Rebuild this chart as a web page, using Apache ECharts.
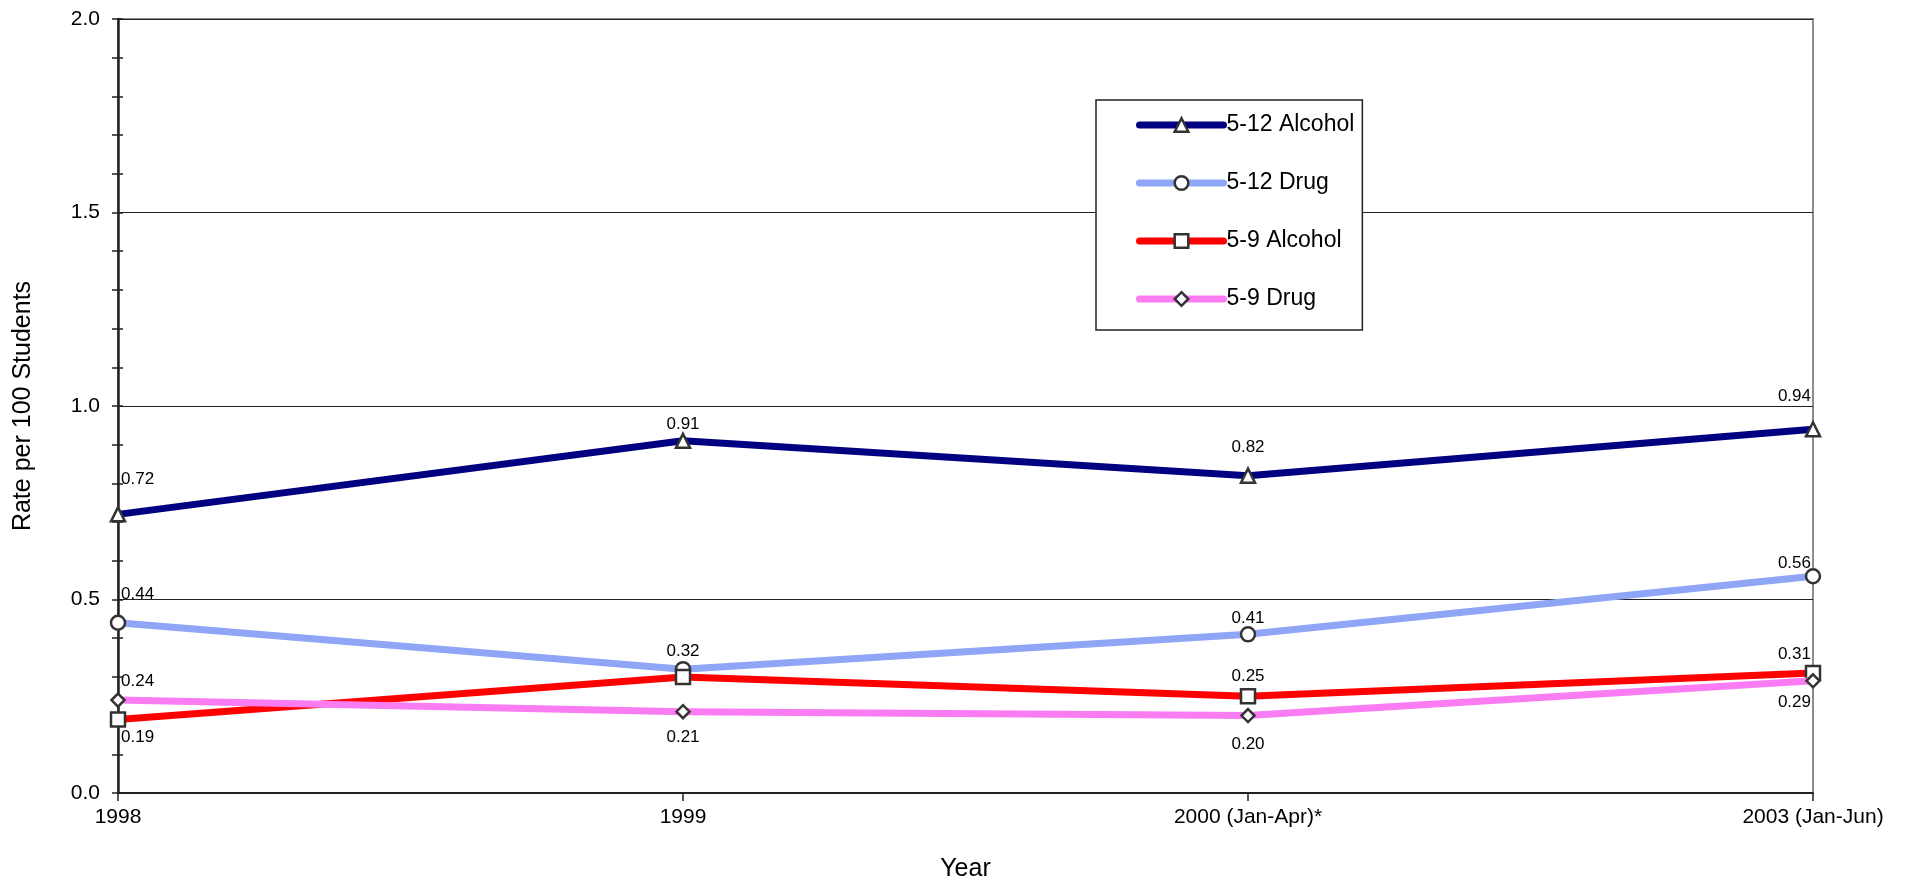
<!DOCTYPE html>
<html>
<head>
<meta charset="utf-8">
<script src="https://cdn.jsdelivr.net/npm/echarts@6/dist/echarts.min.js"></script>
<style>
html,body{margin:0;padding:0;background:#fff;}
#chart{width:1908px;height:887px;}
</style>
</head>
<body>
<div id="chart"></div>
<script>
// ---- data ----
const categories = ['1998', '1999', '2000 (Jan-Apr)*', '2003 (Jan-Jun)'];
const seriesNames = ['5-12 Alcohol', '5-12 Drug', '5-9 Alcohol', '5-9 Drug'];
const alcohol512 = [0.72, 0.91, 0.82, 0.94];
const drug512 = [0.44, 0.32, 0.41, 0.56];
const alcohol59 = [0.19, 0.30, 0.25, 0.31];
const drug59 = [0.24, 0.21, 0.20, 0.29];
const yTicks = [0, 0.5, 1.0, 1.5, 2.0];

// ---- styling (label placement per point, centre offset in px; null = no label) ----
const labelDy = [
  [-35, -17, -28, -33],
  [-28, -18, -16, -13],
  [18, null, -20, -19],
  [-19, 26, 29, 22]
];
const lineColors = ['#000080', '#8fa6f6', '#ff0000', '#fa7cf2'];
const symbols = ['triangle', 'circle', 'rect', 'diamond'];
const symbolSizes = [14, 14, 14, 13];
const FONT = '"Liberation Sans", Arial, sans-serif';

const values = [alcohol512, drug512, alcohol59, drug59];

function buildData(vals, dys) {
  return vals.map((v, i) => {
    const dy = dys[i];
    if (dy === null) return { value: v, label: { show: false } };
    let align = 'center', dx = 0;
    if (i === 0) { align = 'left'; dx = 3; }
    if (i === vals.length - 1) { align = 'right'; dx = -2; }
    return {
      value: v,
      label: { show: true, position: 'inside', align: align, verticalAlign: 'middle', offset: [dx, dy] }
    };
  });
}

const series = values.map((vals, k) => ({
  name: seriesNames[k],
  type: 'line',
  data: buildData(vals, labelDy[k]),
  symbol: symbols[k],
  symbolSize: symbolSizes[k],
  showAllSymbol: true,
  z: 2 + k,
  lineStyle: { color: lineColors[k], width: 7, cap: 'round', join: 'round' },
  itemStyle: { color: '#ffffff', borderColor: '#333333', borderWidth: 2.5 },
  label: {
    color: '#000',
    fontFamily: FONT,
    fontSize: 17,
    formatter: p => p.value.toFixed(2)
  },
  emphasis: { disabled: true },
  animation: false
}));

const chart = echarts.init(document.getElementById('chart'), null, { renderer: 'canvas' });
chart.setOption({
  backgroundColor: '#ffffff',
  animation: false,
  grid: {
    left: 118, right: 95, top: 19, bottom: 93,
    show: true, borderColor: '#8c8c8c', borderWidth: 2, backgroundColor: 'transparent'
  },
  legend: {
    orient: 'vertical',
    left: 1096, top: 100,
    data: seriesNames,
    itemWidth: 84, itemHeight: 17, itemGap: 34,
    padding: [13, 8, 19, 40],
    borderColor: '#222', borderWidth: 1.5,
    backgroundColor: '#fff',
    lineStyle: { width: 7, cap: 'round' },
    itemStyle: { borderWidth: 2.5, borderColor: '#333333', color: '#ffffff' },
    textStyle: { color: '#000', fontFamily: FONT, fontSize: 23, lineHeight: 24, padding: [0, 0, 0, -2] },
    selectedMode: false
  },
  xAxis: {
    type: 'category',
    data: categories,
    boundaryGap: false,
    name: 'Year',
    nameLocation: 'middle',
    nameGap: 64,
    nameTextStyle: { color: '#000', fontFamily: FONT, fontSize: 25 },
    axisLine: { lineStyle: { color: '#222', width: 2 } },
    axisTick: { show: true, length: 8, lineStyle: { color: '#222', width: 1.5 } },
    axisLabel: { color: '#000', fontFamily: FONT, fontSize: 21, margin: 14, interval: 0 },
    splitLine: { show: false }
  },
  yAxis: [
    {
      type: 'value',
      min: 0, max: 2, interval: 0.5,
      name: 'Rate per 100 Students',
      nameLocation: 'middle',
      nameGap: 82,
      nameRotate: 90,
      nameTextStyle: { color: '#000', fontFamily: FONT, fontSize: 25 },
      axisLine: { show: true, lineStyle: { color: '#222', width: 2.5 } },
      axisTick: { show: true, length: 6, lineStyle: { color: '#222', width: 1.5 } },
      minorTick: { show: true, splitNumber: 5, length: 6, lineStyle: { color: '#222', width: 1.5 } },
      axisLabel: {
        color: '#000', fontFamily: FONT, fontSize: 21, margin: 18,
        formatter: v => yTicks.includes(Math.round(v * 10) / 10) ? v.toFixed(1) : ''
      },
      splitLine: { show: true, lineStyle: { color: '#222', width: 1.2 } }
    },
    {
      type: 'value',
      min: 0, max: 2, interval: 0.5,
      position: 'left',
      axisLine: { show: false },
      axisTick: { show: true, inside: true, length: 5, lineStyle: { color: '#222', width: 1.5 } },
      minorTick: { show: true, splitNumber: 5, length: 5, lineStyle: { color: '#222', width: 1.5 } },
      axisLabel: { show: false },
      splitLine: { show: false }
    }
  ],
  series: series
});
</script>
</body>
</html>
